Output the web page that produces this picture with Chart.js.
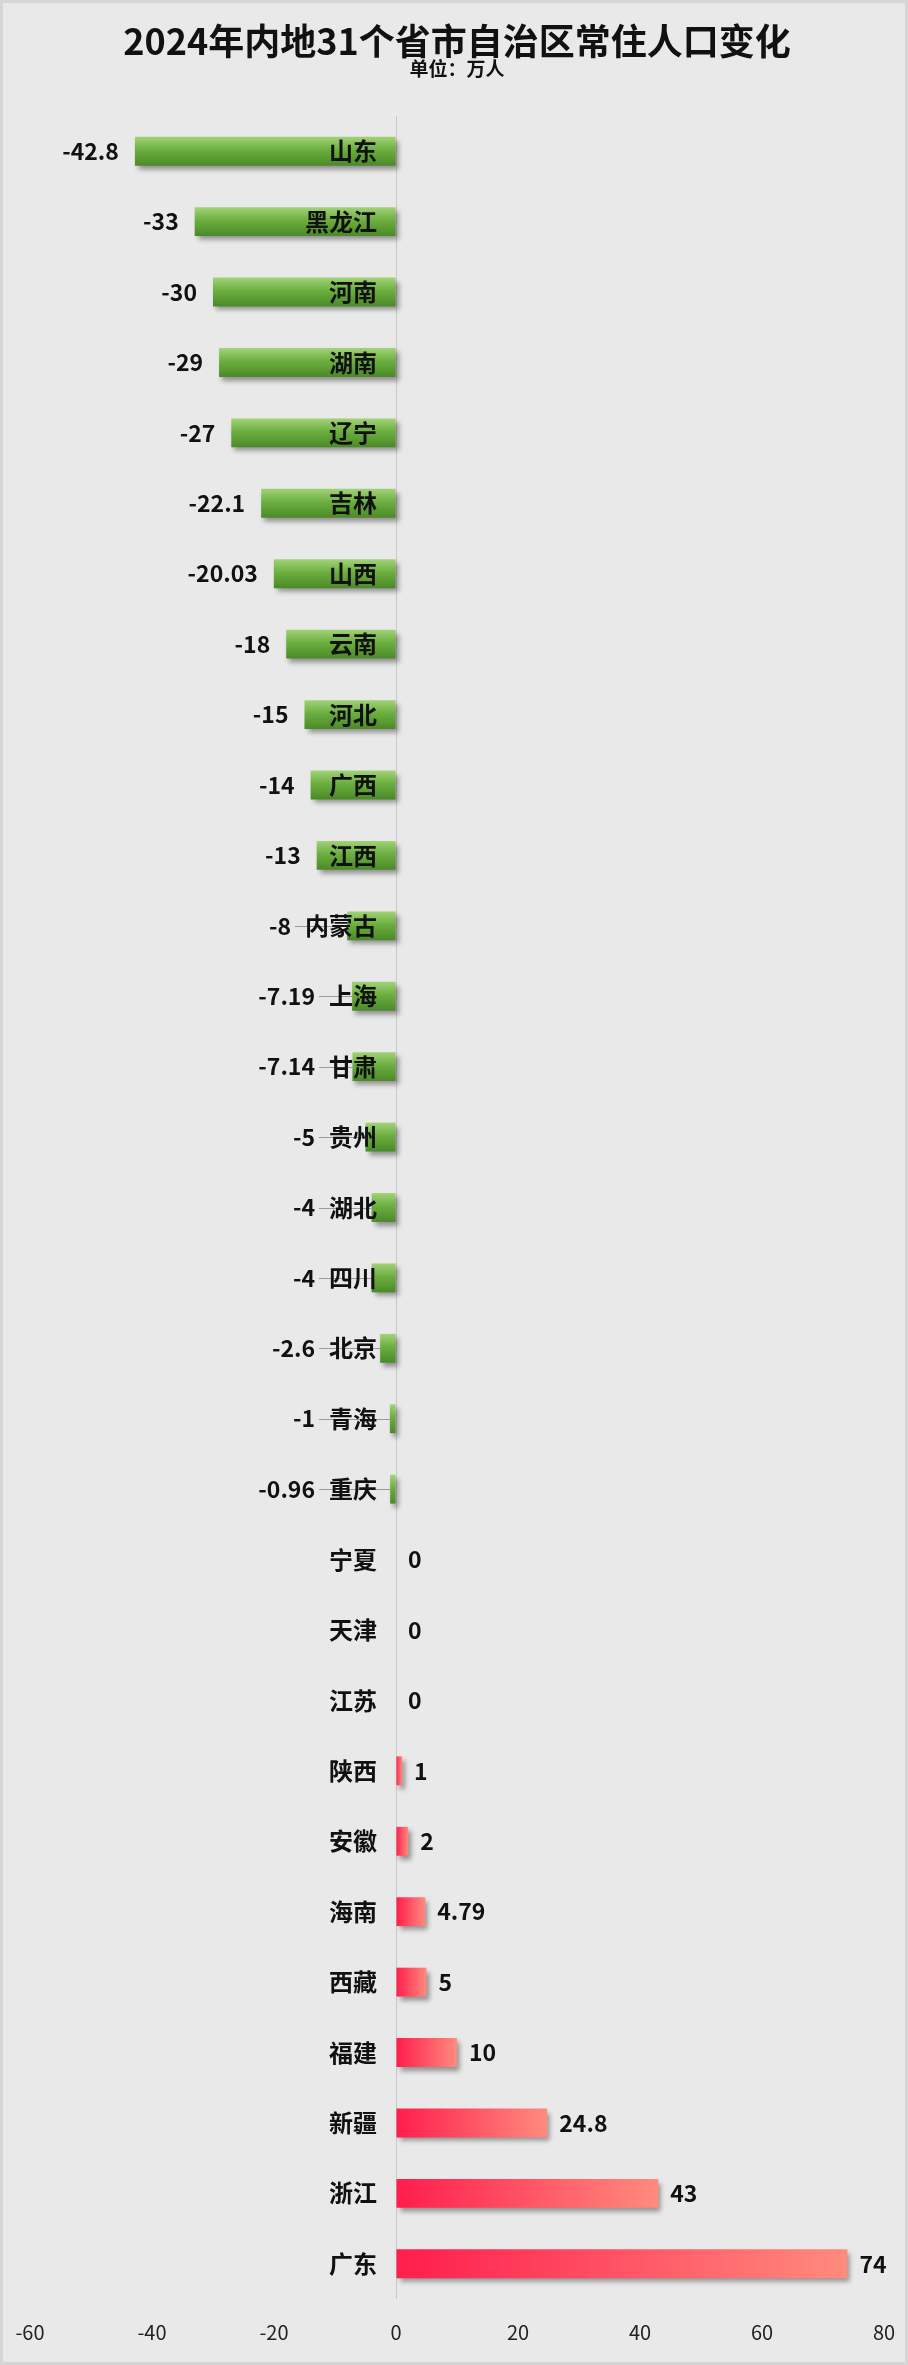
<!DOCTYPE html>
<html lang="zh">
<head>
<meta charset="utf-8">
<title>2024年内地31个省市自治区常住人口变化</title>
<script src="https://cdn.jsdelivr.net/npm/chart.js@4.4.1/dist/chart.umd.min.js"></script>
<style>
  html, body { margin: 0; padding: 0; background: #e9e9e9; }
  #wrap { position: relative; width: 908px; height: 2365px; }
</style>
</head>
<body>
<div id="wrap"><canvas id="popChart"></canvas></div>
<script>
// provinces, top to bottom
const provinces = [
  '山东', '黑龙江', '河南', '湖南', '辽宁', '吉林', '山西', '云南', '河北', '广西',
  '江西', '内蒙古', '上海', '甘肃', '贵州', '湖北', '四川', '北京', '青海', '重庆',
  '宁夏', '天津', '江苏', '陕西', '安徽', '海南', '西藏', '福建', '新疆', '浙江', '广东'
];
// change in resident population, 10k people
const changes = [
  -42.8, -33, -30, -29, -27, -22.1, -20.03, -18, -15, -14,
  -13, -8, -7.19, -7.14, -5, -4, -4, -2.6, -1, -0.96,
  0, 0, 0, 1, 2, 4.79, 5, 10, 24.8, 43, 74
];
const xTicks = [-60, -40, -20, 0, 20, 40, 60, 80];

const titleText = '2024年内地31个省市自治区常住人口变化';
const unitText = '单位：万人';

const CJK = "'Noto Sans CJK SC', 'Noto Sans', sans-serif";
const CAT_FONT = "bold 24px " + CJK;
const VAL_FONT = "bold 23px " + CJK;
const TICK_FONT = "20px " + CJK;
const BAR_PCT = 0.41;

// bar fill: green vertical gradient for losses, red horizontal gradient for gains
function barFill(context) {
  const chart = context.chart;
  if (!chart.chartArea) return '#6aaa3c';
  const c = chart.ctx;
  const xs = chart.scales.x, ys = chart.scales.y;
  const v = context.raw;
  const yc = ys.getPixelForValue(context.dataIndex);
  const half = (ys.height / provinces.length) * BAR_PCT / 2;
  if (v < 0) {
    const g = c.createLinearGradient(0, yc - half, 0, yc + half);
    g.addColorStop(0, '#a2d278');
    g.addColorStop(0.45, '#6caf3f');
    g.addColorStop(1, '#4a8a27');
    return g;
  }
  const x0 = xs.getPixelForValue(0);
  const x1 = xs.getPixelForValue(v);
  const g = c.createLinearGradient(x0, 0, Math.max(x1, x0 + 1), 0);
  g.addColorStop(0, '#ff1d4d');
  g.addColorStop(1, '#ff8b7d');
  return g;
}

const backgroundPlugin = {
  id: 'pageBg',
  beforeDraw(chart) {
    const c = chart.ctx;
    c.save();
    c.fillStyle = '#e9e9e9';
    c.fillRect(0, 0, chart.width, chart.height);
    c.strokeStyle = '#d6d6d6';
    c.lineWidth = 3;
    c.strokeRect(1.5, 1.5, chart.width - 3, chart.height - 3);
    c.restore();
  }
};

const shadowPlugin = {
  id: 'barShadow',
  beforeDatasetDraw(chart) {
    const c = chart.ctx;
    c.save();
    c.shadowColor = 'rgba(0,0,0,0.38)';
    c.shadowBlur = 5;
    c.shadowOffsetX = 3;
    c.shadowOffsetY = 4;
  },
  afterDatasetDraw(chart) {
    chart.ctx.restore();
  }
};

// value axis numbers, placed under the chart area from the x scale
const tickPlugin = {
  id: 'valueTicks',
  afterDraw(chart) {
    const c = chart.ctx;
    const xs = chart.scales.x;
    c.save();
    c.font = TICK_FONT;
    c.fillStyle = '#222';
    c.textAlign = 'center';
    c.textBaseline = 'middle';
    xTicks.forEach(v => c.fillText(String(v), xs.getPixelForValue(v), chart.chartArea.bottom + 33));
    c.restore();
  }
};

const labelPlugin = {
  id: 'barLabels',
  afterDatasetsDraw(chart) {
    const c = chart.ctx;
    const meta = chart.getDatasetMeta(0);
    const zeroX = chart.scales.x.getPixelForValue(0);
    const catRight = zeroX - 19;
    const items = meta.data.map((bar, i) => {
      c.font = CAT_FONT;
      const catLeft = catRight - c.measureText(provinces[i]).width;
      const v = changes[i];
      let valX, align = 'left', leader = false;
      if (v < 0) {
        align = 'right';
        valX = bar.x - 16;
        if (valX > catLeft - 8) {
          valX = catLeft - 14;
          leader = true;
        }
      } else {
        valX = bar.x + 12;
      }
      return { bar, v, valX, align, leader };
    });

    c.save();
    // leader lines for labels pushed away from short bars
    c.strokeStyle = '#9a9a9a';
    c.lineWidth = 1;
    items.forEach(it => {
      if (!it.leader) return;
      c.beginPath();
      c.moveTo(it.valX + 4, Math.round(it.bar.y) + 0.5);
      c.lineTo(it.bar.x, Math.round(it.bar.y) + 0.5);
      c.stroke();
    });
    // province names next to the zero line
    c.fillStyle = '#111';
    c.textBaseline = 'middle';
    c.font = CAT_FONT;
    c.textAlign = 'right';
    items.forEach((it, i) => c.fillText(provinces[i], catRight, it.bar.y));
    // values
    c.font = VAL_FONT;
    items.forEach(it => {
      c.textAlign = it.align;
      c.fillText(String(it.v), it.valX, it.bar.y);
    });
    c.restore();
  }
};

new Chart(document.getElementById('popChart'), {
  type: 'bar',
  data: {
    labels: provinces,
    datasets: [{
      data: changes,
      backgroundColor: barFill,
      borderWidth: 0,
      categoryPercentage: 1,
      barPercentage: BAR_PCT
    }]
  },
  options: {
    indexAxis: 'y',
    responsive: true,
    maintainAspectRatio: false,
    animation: false,
    layout: { padding: { left: 30, right: 24, top: 0, bottom: 66 } },
    scales: {
      x: {
        type: 'linear',
        min: xTicks[0],
        max: xTicks[xTicks.length - 1],
        afterBuildTicks: axis => { axis.ticks = xTicks.map(v => ({ value: v })); },
        grid: {
          drawTicks: false,
          color: ctx => (ctx.tick && ctx.tick.value === 0) ? '#c8c8c8' : 'rgba(0,0,0,0)',
          lineWidth: 1
        },
        border: { display: false },
        ticks: { display: false }
      },
      y: {
        display: false,
        offset: true
      }
    },
    plugins: {
      legend: { display: false },
      tooltip: { enabled: false },
      title: {
        display: true,
        text: titleText,
        color: '#111',
        font: { family: CJK, size: 36, weight: 'bold', lineHeight: 1 },
        padding: { top: 23, bottom: 0 }
      },
      subtitle: {
        display: true,
        text: unitText,
        color: '#111',
        font: { family: CJK, size: 19, weight: 'bold', lineHeight: 1 },
        padding: { top: 0, bottom: 38 }
      }
    }
  },
  plugins: [backgroundPlugin, shadowPlugin, labelPlugin, tickPlugin]
});
</script>
</body>
</html>
